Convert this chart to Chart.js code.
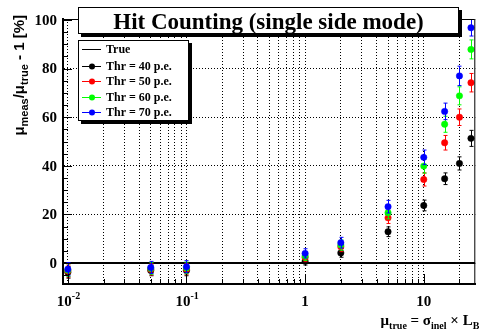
<!DOCTYPE html>
<html>
<head>
<meta charset="utf-8">
<script src="https://cdn.jsdelivr.net/npm/chart.js@4/dist/chart.umd.min.js"></script>
<style>
  html, body { margin: 0; padding: 0; background: #fff; }
  canvas { display: block; }
</style>
</head>
<body>
<canvas id="hits" width="479" height="330"></canvas>
<script>
// mu_true values of the measurement points
const muTrue = [0.01, 0.05, 0.1, 1, 2, 5, 10, 15, 20, 25];

// relative bias mu_meas/mu_true - 1 in %, per threshold, and their errors
const thr40 = [-3.8, -3.0, -3.0, 0.8, 4.2, 12.9, 23.7, 34.7, 41.0, 51.3];
const thr50 = [-3.3, -2.6, -2.5, 2.3, 6.7, 18.6, 34.4, 49.5, 60.0, 74.2];
const thr60 = [-2.9, -2.2, -2.0, 2.9, 7.4, 20.7, 39.9, 57.1, 68.8, 87.9];
const thr70 = [-2.5, -1.8, -1.5, 4.0, 8.4, 23.2, 43.5, 62.4, 77.0, 96.8];
const err40 = [2.4, 2.2, 2.2, 1.6, 1.8, 2.0, 2.2, 2.4, 2.7, 3.3];
const err50 = [2.5, 2.3, 2.3, 1.7, 2.0, 2.3, 2.7, 3.0, 3.4, 3.8];
const err60 = [2.6, 2.4, 2.4, 1.8, 2.1, 2.5, 2.9, 3.3, 3.7, 3.9];
const err70 = [2.7, 2.5, 2.5, 1.9, 2.2, 2.6, 3.0, 3.4, 4.0, 3.4];

// "True" reference line
const trueX = [0.0091, 27.2];
const trueY = [0, 0];

// axes
const xGrid = [0.01, 0.02, 0.03, 0.04, 0.05, 0.06, 0.07, 0.08, 0.09,
               0.1, 0.2, 0.3, 0.4, 0.5, 0.6, 0.7, 0.8, 0.9,
               1, 2, 3, 4, 5, 6, 7, 8, 9, 10, 20];
const xMajor = [0.01, 0.1, 1, 10];
const xLabelBase = ["10", "10", "1", "10"];
const xLabelExp = ["-2", "-1", "", ""];
const yMajor = [0, 20, 40, 60, 80, 100];
const yMinor = [-5, 5, 10, 15, 25, 30, 35, 45, 50, 55, 65, 70, 75, 85, 90, 95];

const titleText = "Hit Counting (single side mode)";
const legendLabels = ["True", "Thr = 40 p.e.", "Thr = 50 p.e.", "Thr = 60 p.e.", "Thr = 70 p.e."];
const colors = ["#000000", "#000000", "#ff0000", "#00ff00", "#0000ff"];

const SERIF = '"Liberation Serif", "DejaVu Serif", serif';
const SANS = '"Liberation Sans", Arial, sans-serif';

function pts(xs, ys) { return xs.map((x, i) => ({ x, y: ys[i] })); }

function series(label, ys, errs, color, order) {
  return {
    label, data: pts(muTrue, ys), errors: errs, order,
    showLine: false, pointRadius: 3.2, pointHoverRadius: 3.2,
    pointBackgroundColor: color, pointBorderColor: color, pointBorderWidth: 0.5,
    borderColor: color
  };
}

const errorBars = {
  id: "errorBars",
  beforeDatasetDraw(chart, args) {
    const ds = chart.data.datasets[args.index];
    if (!ds.errors) return;
    const { ctx, scales: { x, y } } = chart;
    ctx.save();
    ctx.strokeStyle = ds.borderColor;
    ctx.lineWidth = 1;
    ds.data.forEach((p, i) => {
      const px = Math.round(x.getPixelForValue(p.x)) + 0.5;
      const top = y.getPixelForValue(p.y + ds.errors[i]);
      const bot = y.getPixelForValue(p.y - ds.errors[i]);
      ctx.beginPath();
      ctx.moveTo(px, top); ctx.lineTo(px, bot);
      ctx.moveTo(px - 2, top); ctx.lineTo(px + 2, top);
      ctx.moveTo(px - 2, bot); ctx.lineTo(px + 2, bot);
      ctx.stroke();
    });
    ctx.restore();
  }
};

// text made of runs: [text, font, dy]
function runWidth(ctx, runs) {
  return runs.reduce((w, r) => { ctx.font = r[1]; return w + ctx.measureText(r[0]).width; }, 0);
}
function drawRuns(ctx, runs, x, y) {
  runs.forEach(r => {
    ctx.font = r[1];
    ctx.fillText(r[0], x, y + r[2]);
    x += ctx.measureText(r[0]).width;
  });
}

function shadowBox(ctx, x, y, w, h) {
  ctx.fillStyle = "#000";
  ctx.fillRect(x + 3, y + 3, w, h);
  ctx.fillStyle = "#fff";
  ctx.fillRect(x, y, w, h);
  ctx.strokeStyle = "#000";
  ctx.lineWidth = 1;
  ctx.strokeRect(x + 0.5, y + 0.5, w - 1, h - 1);
}

const decorations = {
  id: "decorations",
  afterDraw(chart) {
    const { ctx, chartArea: a, scales: { x, y } } = chart;
    ctx.save();
    ctx.strokeStyle = "#000";
    ctx.fillStyle = "#000";

    // frame top and right
    ctx.lineWidth = 1;
    ctx.beginPath();
    ctx.moveTo(a.left, a.top + 0.5); ctx.lineTo(a.right - 0.5, a.top + 0.5); ctx.lineTo(a.right - 0.5, a.bottom);
    ctx.stroke();

    // inward tick marks
    ctx.beginPath();
    xGrid.forEach(v => {
      const px = Math.round(x.getPixelForValue(v)) + 0.5;
      const len = xMajor.includes(v) ? 10 : 5;
      ctx.moveTo(px, a.bottom); ctx.lineTo(px, a.bottom - len);
    });
    yMajor.forEach(v => {
      const py = Math.round(y.getPixelForValue(v)) + 0.5;
      ctx.moveTo(a.left, py); ctx.lineTo(a.left + 9, py);
    });
    yMinor.forEach(v => {
      const py = Math.round(y.getPixelForValue(v)) + 0.5;
      ctx.moveTo(a.left, py); ctx.lineTo(a.left + 5, py);
    });
    ctx.stroke();

    // y tick labels
    ctx.font = "bold 15px " + SERIF;
    ctx.textAlign = "right";
    ctx.textBaseline = "middle";
    yMajor.forEach(v => ctx.fillText(String(v), a.left - 6, y.getPixelForValue(v) + 1));

    // x tick labels
    ctx.textAlign = "left";
    ctx.textBaseline = "alphabetic";
    xMajor.forEach((v, i) => {
      const runs = [[xLabelBase[i], "bold 15px " + SERIF, 0]];
      if (xLabelExp[i]) runs.push([xLabelExp[i], "bold 10px " + SERIF, -7]);
      const w = runWidth(ctx, runs);
      const px = x.getPixelForValue(v);
      drawRuns(ctx, runs, xLabelExp[i] ? px - 11 : px - w / 2, 306);
    });

    // x axis title
    const xt = [
      ["\u03bc", "bold 15px " + SERIF, 0],
      ["true", "bold 10px " + SERIF, 4],
      [" = \u03c3", "bold 15px " + SERIF, 0],
      ["inel", "bold 10px " + SERIF, 4],
      [" \u00d7 L", "bold 15px " + SERIF, 0],
      ["B", "bold 10px " + SERIF, 4]
    ];
    drawRuns(ctx, xt, a.right + 4 - runWidth(ctx, xt), 325);

    // y axis title, rotated
    const yt = [
      ["\u03bc", "bold 15px " + SANS, 0],
      ["meas", "bold 11px " + SANS, 4],
      ["/\u03bc", "bold 15px " + SANS, 0],
      ["true", "bold 11px " + SANS, 4],
      [" - 1 [%]", "bold 15px " + SANS, 0]
    ];
    ctx.save();
    ctx.translate(24, 15 + runWidth(ctx, yt));
    ctx.rotate(-Math.PI / 2);
    drawRuns(ctx, yt, 0, 0);
    ctx.restore();

    // title box
    shadowBox(ctx, 78, 7, 381, 27);
    ctx.fillStyle = "#000";
    ctx.font = "bold 23px " + SERIF;
    ctx.textAlign = "center";
    ctx.fillText(titleText, 268.5, 29);

    // legend box
    shadowBox(ctx, 78, 40, 111, 81);
    ctx.textAlign = "left";
    ctx.textBaseline = "middle";
    ctx.font = "bold 12px " + SERIF;
    const rowY = [49, 65.5, 80.5, 97, 112];
    legendLabels.forEach((lab, i) => {
      const ry = rowY[i];
      ctx.strokeStyle = colors[i];
      ctx.lineWidth = 1;
      ctx.beginPath();
      ctx.moveTo(82, Math.round(ry) + 0.5); ctx.lineTo(101, Math.round(ry) + 0.5);
      ctx.stroke();
      if (i > 0) {
        ctx.fillStyle = colors[i];
        ctx.beginPath();
        ctx.arc(92, Math.round(ry) + 0.5, 3, 0, Math.PI * 2);
        ctx.fill();
      }
      ctx.fillStyle = "#000";
      ctx.fillText(lab, 106, ry + 1);
    });
    ctx.restore();
  }
};

new Chart(document.getElementById("hits"), {
  type: "scatter",
  data: {
    datasets: [
      { label: "True", type: "line", data: pts(trueX, trueY), borderColor: "#000", borderWidth: 2, pointRadius: 0, order: 5 },
      series("Thr = 40 p.e.", thr40, err40, "#000000", 4),
      series("Thr = 50 p.e.", thr50, err50, "#ff0000", 3),
      series("Thr = 60 p.e.", thr60, err60, "#00ff00", 2),
      series("Thr = 70 p.e.", thr70, err70, "#0000ff", 1)
    ]
  },
  options: {
    responsive: false,
    animation: false,
    devicePixelRatio: 1,
    layout: { padding: { left: 63, top: 19, right: 1, bottom: 46 } },
    plugins: { legend: { display: false }, tooltip: { enabled: false } },
    scales: {
      x: {
        type: "logarithmic", min: 0.0091, max: 27.2,
        afterBuildTicks: s => { s.ticks = xGrid.map(v => ({ value: v })); },
        ticks: { display: false },
        grid: { color: "#000", lineWidth: 1, drawTicks: false },
        border: { color: "#000", width: 2, dash: [1, 2] }
      },
      y: {
        type: "linear", min: -8.6, max: 100.4,
        afterBuildTicks: s => { s.ticks = yMajor.map(v => ({ value: v })); },
        ticks: { display: false },
        grid: { color: "#000", lineWidth: 1, drawTicks: false },
        border: { color: "#000", width: 2, dash: [1, 2] }
      }
    }
  },
  plugins: [errorBars, decorations]
});
</script>
</body>
</html>
